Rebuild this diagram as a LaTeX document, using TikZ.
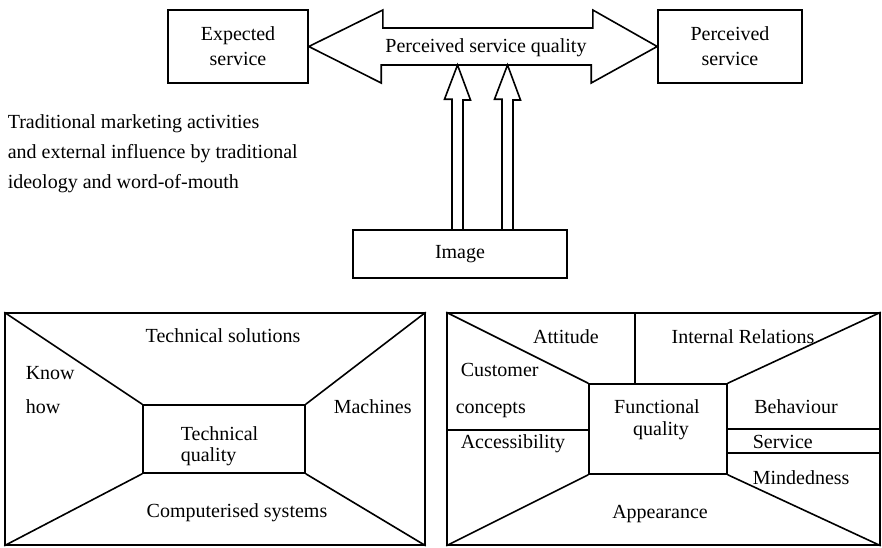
\documentclass[tikz,border=0pt]{standalone}
\usepackage{fontspec}
\setmainfont{Liberation Serif}

\begin{document}
\begin{tikzpicture}[x=1pt, y=-1pt, line width=1.6pt,
    font=\fontsize{20}{25}\selectfont,
    box/.style={draw, inner sep=0pt, align=center},
    lbl/.style={anchor=base, inner sep=0pt},
    lblw/.style={anchor=base west, inner sep=0pt}]
        \useasboundingbox (0,0) rectangle (882,547);

        % service quality
        \node[box, minimum width=140pt, minimum height=73pt] at (238,46.5) (exp) {Expected\\service};
        \node[box, minimum width=144pt, minimum height=73pt] at (730,46.5) (perc) {Perceived\\service};
        \draw (exp.east) -- ++(74,-36.5) -- ++(0,18) -- ++(210,0) -- ++(0,-18) -- (perc.west)
            -- ++(-66,36.5) -- ++(0,-18) -- ++(-210,0) -- ++(0,18) -- cycle;
        \node[lbl] at (486,52) (psq) {Perceived service quality};

        \node[anchor=north west, inner sep=0pt, align=left, font=\fontsize{20}{30}\selectfont]
            at (7,113.5) (trad) {Traditional marketing activities\\and external influence by traditional\\ideology and word-of-mouth};

        % image
        \node[box, minimum width=214pt, minimum height=48pt] at (460,254) (img) {};
        \node[lbl] at (460,258) (imgtxt) {Image};
        \coordinate (qa) at (457.5,65);
        \coordinate (qb) at (507.5,65);
        \foreach \t in {qa,qb}
            \draw (\t |- img.north) ++(-5.5,0) -- ++(0,-130) -- ++(-7.5,0) -- (\t)
                -- ++(13,35) -- ++(-7.5,0) -- ++(0,130);

        % technical quality
        \node[draw, minimum width=420pt, minimum height=232pt] at (215,429) (tpanel) {};
        \node[draw, minimum width=162pt, minimum height=68pt] at (224,439) (tq) {};
        \draw (tpanel.north west) -- (tq.north west);
        \draw (tpanel.north east) -- (tq.north east);
        \draw (tpanel.south west) -- (tq.south west);
        \draw (tpanel.south east) -- (tq.south east);
        \node[lbl] at (223,342) (tsol) {Technical solutions};
        \node[lblw] at (25,379) (know) {Know};
        \node[lblw] at (25,413) (how) {how};
        \node[lblw] at (333,413) (mach) {Machines};
        \node[lblw] at (180,440) (tq1) {Technical};
        \node[lblw] at (180,461) (tq2) {quality};
        \node[lbl] at (237,517) (comp) {Computerised systems};

        % functional quality
        \node[draw, minimum width=433pt, minimum height=232pt] at (663.5,429) (fpanel) {};
        \node[draw, minimum width=138pt, minimum height=90pt] at (658,429) (fq) {};
        \draw (fpanel.north west) -- (fq.north west);
        \draw (fpanel.north east) -- (fq.north east);
        \draw (fpanel.south west) -- (fq.south west);
        \draw (fpanel.south east) -- (fq.south east);
        \draw (635,313) -- (635,384);
        \draw (447,430) -- (589,430);
        \draw (727,429) -- (880,429);
        \draw (727,453) -- (880,453);
        \node[lbl] at (566,343) (att) {Attitude};
        \node[lbl] at (743,343) (intrel) {Internal Relations};
        \node[lblw] at (460,376) (cust) {Customer};
        \node[lblw] at (455,413) (conc) {concepts};
        \node[lblw] at (460,448) (acc) {Accessibility};
        \node[lbl] at (657,413) (fq1) {Functional};
        \node[lbl] at (661,435) (fq2) {quality};
        \node[lbl] at (796,413) (beh) {Behaviour};
        \node[lblw] at (752,448) (serv) {Service};
        \node[lblw] at (752,484) (mind) {Mindedness};
        \node[lbl] at (660,518) (app) {Appearance};
    \end{tikzpicture}
\end{document}
